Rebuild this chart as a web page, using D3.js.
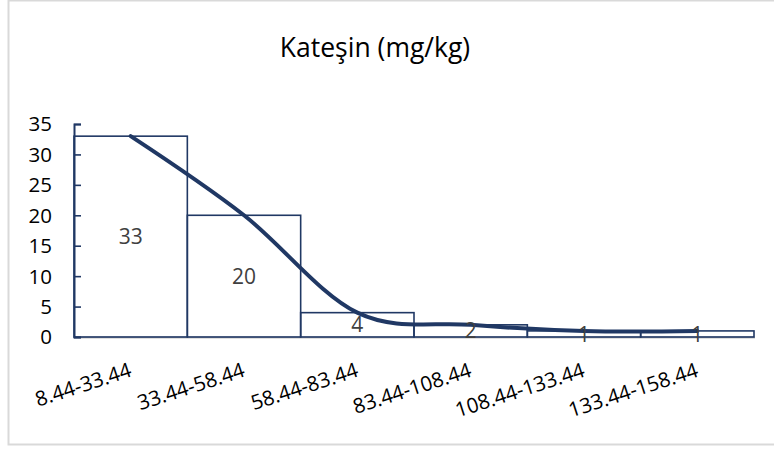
<!DOCTYPE html>
<html>
<head>
<meta charset="utf-8">
<script src="https://cdn.jsdelivr.net/npm/d3@7"></script>
<style>
	body { margin: 0; background: #fff; }
	svg { display: block; font-family: "Open Sans", sans-serif; }
</style>
</head>
<body>
<div id="chart"></div>
<script>
var title = "Kateşin (mg/kg)";
var categories = ["8.44-33.44", "33.44-58.44", "58.44-83.44", "83.44-108.44", "108.44-133.44", "133.44-158.44"];
var counts = [33, 20, 4, 2, 1, 1];
var yTicks = [0, 5, 10, 15, 20, 25, 30, 35];

var width = 774, height = 450;
var navy = "#203864";

var svg = d3.select("#chart").append("svg")
	.attr("width", width)
	.attr("height", height);

// chart frame
svg.append("rect")
	.attr("x", 8.5).attr("y", 0.5)
	.attr("width", 800).attr("height", 444)
	.attr("fill", "#fff")
	.attr("stroke", "#d9d9d9")
	.attr("stroke-width", 2);

var x = d3.scaleBand()
	.domain(categories)
	.range([74, 754])
	.padding(0);

var y = d3.scaleLinear()
	.domain([0, 35])
	.range([337, 124]);

svg.append("text")
	.attr("x", 375).attr("y", 57)
	.attr("text-anchor", "middle")
	.attr("font-size", 26.5)
	.attr("fill", "#000")
	.text(title);

// x axis line
svg.append("line")
	.attr("x1", 74).attr("x2", 755)
	.attr("y1", y(0) + 0.5).attr("y2", y(0) + 0.5)
	.attr("stroke", "#bfbfbf")
	.attr("stroke-width", 2);

// bars (outline only)
svg.append("g").selectAll("rect")
	.data(counts)
	.enter().append("rect")
	.attr("x", function (d, i) { return x(categories[i]); })
	.attr("y", function (d) { return y(d); })
	.attr("width", x.bandwidth())
	.attr("height", function (d) { return y(0) - y(d); })
	.attr("fill", "none")
	.attr("stroke", navy)
	.attr("stroke-width", 1.6);

// y axis with inside ticks
var yAxis = svg.append("g")
	.attr("transform", "translate(74,0)")
	.call(d3.axisRight(y).tickValues(yTicks).tickSize(7).tickFormat(""));
yAxis.select(".domain").attr("stroke", navy).attr("stroke-width", 2);
yAxis.selectAll(".tick line").attr("stroke", navy).attr("stroke-width", 1.6);

svg.append("g").selectAll("text")
	.data(yTicks)
	.enter().append("text")
	.attr("x", 52)
	.attr("y", function (d) { return y(d); })
	.attr("dy", "0.36em")
	.attr("text-anchor", "end")
	.attr("font-size", 20.5)
	.attr("fill", "#000")
	.text(function (d) { return d; });

// x labels, rotated
svg.append("g").selectAll("text")
	.data(categories)
	.enter().append("text")
	.attr("transform", function (d) {
		return "translate(" + (x(d) + x.bandwidth() / 2 + 2) + ",376) rotate(-18)";
	})
	.attr("text-anchor", "end")
	.attr("font-size", 20.5)
	.attr("fill", "#000")
	.text(function (d) { return d; });

// smoothed line through bar tops
var line = d3.line()
	.x(function (d, i) { return x(categories[i]) + x.bandwidth() / 2; })
	.y(function (d) { return y(d); })
	.curve(d3.curveCardinal.tension(0));

svg.append("path")
	.datum(counts)
	.attr("d", line)
	.attr("fill", "none")
	.attr("stroke", navy)
	.attr("stroke-width", 4)
	.attr("stroke-linecap", "round");

// value labels centred in bars
svg.append("g").selectAll("text")
	.data(counts)
	.enter().append("text")
	.attr("x", function (d, i) { return x(categories[i]) + x.bandwidth() / 2; })
	.attr("y", function (d) { return (y(d) + y(0)) / 2; })
	.attr("dy", "0.36em")
	.attr("text-anchor", "middle")
	.attr("font-size", 21)
	.attr("fill", "#404040")
	.text(function (d) { return d; });
</script>
</body>
</html>
